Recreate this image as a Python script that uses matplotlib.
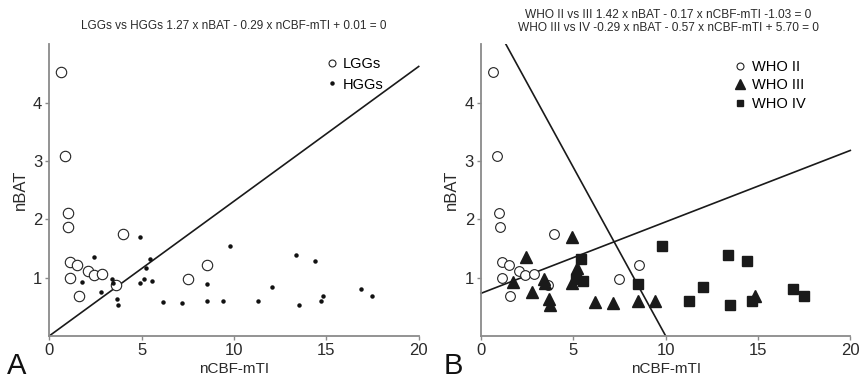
import numpy as np
import matplotlib
matplotlib.use("Agg")
import matplotlib.pyplot as plt
from matplotlib.lines import Line2D

plt.rcParams['font.family'] = ['Liberation Sans', 'DejaVu Sans']

# ---- data ----
lgg_x = [0.63, 0.87, 0.99, 1.03, 1.12, 1.14, 1.50, 1.59, 2.08, 2.40, 2.85, 3.63, 3.97, 7.49, 8.54]
lgg_y = [4.52, 3.08, 2.11, 1.86, 1.27, 0.99, 1.21, 0.68, 1.12, 1.04, 1.06, 0.88, 1.75, 0.97, 1.21]

who3_x = [1.75, 2.42, 2.78, 3.41, 3.47, 3.68, 3.74, 4.91, 4.91, 5.22, 6.16, 7.17, 8.52, 9.40, 14.82]
who3_y = [0.93, 1.35, 0.76, 0.97, 0.91, 0.63, 0.53, 1.70, 0.91, 1.16, 0.58, 0.57, 0.60, 0.59, 0.69]

who4_x = [5.14, 5.43, 5.54, 8.52, 9.80, 11.28, 12.04, 13.36, 13.50, 14.40, 14.69, 16.88, 17.47]
who4_y = [0.97, 1.32, 0.94, 0.89, 1.55, 0.59, 0.83, 1.39, 0.53, 1.29, 0.59, 0.81, 0.68]

hgg_x = who3_x + who4_x
hgg_y = who3_y + who4_y

# decision boundaries as drawn: (intercept, slope) of nBAT vs nCBF-mTI
line_A = (0.0, 0.231)
line_B1 = (0.73, 0.1225)
line_B2 = (5.78, -0.578)

title_A = "LGGs vs HGGs 1.27 x nBAT - 0.29 x nCBF-mTI + 0.01 = 0"
title_B = ("WHO II vs III 1.42 x nBAT - 0.17 x nCBF-mTI -1.03 = 0\n"
           "WHO III vs IV -0.29 x nBAT - 0.57 x nCBF-mTI + 5.70 = 0")
xticks = [0, 5, 10, 15, 20]
yticks = [1, 2, 3, 4]

# ---- figure ----
W, H = 862, 382
fig = plt.figure(figsize=(W / 100, H / 100), dpi=100)

def px_axes(left, right, top, bottom):
    return fig.add_axes([left / W, 1 - bottom / H, (right - left) / W, (bottom - top) / H])

axA = px_axes(49.3, 418.7, 44.3, 335.9)
axB = px_axes(481.0, 850.3, 44.3, 335.9)

spine_col = '#8a8a8a'
line_col = '#1a1a1a'
text_col = '#2a2a2a'

for ax in (axA, axB):
    ax.set_xlim(0, 20)
    ax.set_ylim(0, 5)
    ax.set_xticks(xticks)
    ax.set_yticks(yticks)
    ax.set_xticklabels([str(t) for t in xticks])
    ax.set_yticklabels([str(t) for t in yticks])
    for s in ('top', 'right'):
        ax.spines[s].set_visible(False)
    for s in ('left', 'bottom'):
        ax.spines[s].set_color(spine_col)
        ax.spines[s].set_linewidth(1.3)
    ax.tick_params(axis='both', colors=spine_col, labelcolor=text_col, labelsize=12,
                   length=3, width=1.0, pad=2)
    ax.set_xlabel('nCBF-mTI', fontsize=11, color=text_col, labelpad=3)
    ax.set_ylabel('nBAT', fontsize=12, color=text_col, labelpad=4)

xx = np.array([0.0, 20.0])

# Panel A
axA.plot(xx, line_A[0] + line_A[1] * xx, color=line_col, lw=1.2, clip_on=False, zorder=2)
axA.plot(lgg_x, lgg_y, 'o', ms=7.5, mfc='white', mec='#222222', mew=0.8, ls='none', zorder=3)
axA.plot(hgg_x, hgg_y, 'o', ms=2.2, color='#111111', ls='none', zorder=4)
hA = [Line2D([], [], marker='o', ms=5, mfc='white', mec='#222222', mew=0.8, ls='none'),
      Line2D([], [], marker='o', ms=2.2, color='#111111', ls='none')]
axA.legend(hA, ['LGGs', 'HGGs'], loc='upper left', bbox_to_anchor=(325 / W, 1 - 57 / H),
           bbox_transform=fig.transFigure, frameon=False, fontsize=10.5, borderpad=0,
           borderaxespad=0, handlelength=1.0, handletextpad=0.2, labelspacing=0.45)
fig.text(234 / W, 1 - 26 / H, title_A, ha='center', va='center', fontsize=8.5, color=text_col)

# Panel B
axB.plot(xx, line_B1[0] + line_B1[1] * xx, color=line_col, lw=1.2, clip_on=False, zorder=2)
axB.plot(xx, line_B2[0] + line_B2[1] * xx, color=line_col, lw=1.2, zorder=2)
axB.plot(lgg_x, lgg_y, 'o', ms=7.0, mfc='white', mec='#222222', mew=0.8, ls='none', zorder=3)
axB.plot(who3_x, who3_y, '^', ms=8.5, color='#1a1a1a', ls='none', zorder=4)
axB.plot(who4_x, who4_y, 's', ms=6.8, color='#1a1a1a', ls='none', zorder=4)
hB = [Line2D([], [], marker='o', ms=5, mfc='white', mec='#222222', mew=0.8, ls='none'),
      Line2D([], [], marker='^', ms=7, color='#1a1a1a', ls='none'),
      Line2D([], [], marker='s', ms=5, color='#1a1a1a', ls='none')]
axB.legend(hB, ['WHO II', 'WHO III', 'WHO IV'], loc='upper left',
           bbox_to_anchor=(733 / W, 1 - 60 / H), bbox_transform=fig.transFigure,
           frameon=False, fontsize=10.5, borderpad=0, borderaxespad=0, handlelength=1.0,
           handletextpad=0.3, labelspacing=0.3)
fig.text(668 / W, 1 - 21.5 / H, title_B, ha='center', va='center', fontsize=8.6,
         color=text_col, linespacing=1.2)

# panel letters
fig.text(7 / W, 1.5 / H, 'A', fontsize=21, color='#111111', ha='left', va='bottom')
fig.text(444 / W, 1.5 / H, 'B', fontsize=21, color='#111111', ha='left', va='bottom')

fig.savefig('out.png', dpi=100)
